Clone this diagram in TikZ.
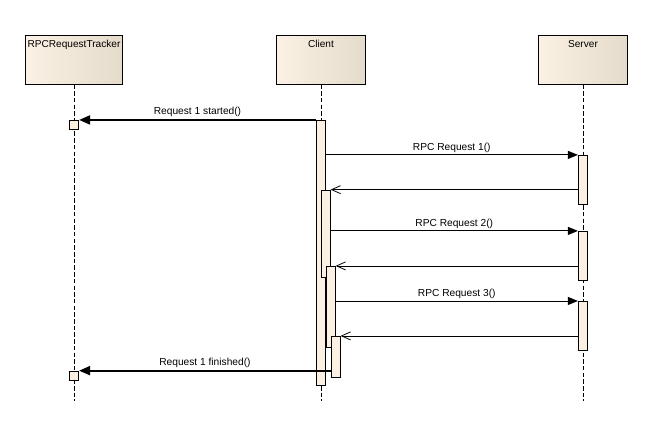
\documentclass[tikz,border=0pt]{standalone}
\usepackage{fontspec}
\setmainfont{Liberation Sans}
\usetikzlibrary{arrows.meta}
\definecolor{boxl}{HTML}{FBF1E4}
\definecolor{boxm}{HTML}{F8EEDF}
\definecolor{boxr}{HTML}{E4DBCB}
\definecolor{actfill}{HTML}{FBF0E2}
\tikzset{
  lifebox/.style={draw=black, line width=0.9pt, left color=boxl, middle color=boxm, right color=boxr,
    minimum width=89.4pt, minimum height=48.7pt, inner sep=0pt},
  boxlabel/.style={anchor=north, inner sep=0pt, yshift=-5.5pt, font=\fontsize{10.1}{12}\selectfont},
  lifeline/.style={draw=black, line width=0.8pt, dash pattern=on 4.5pt off 2.2pt},
  actbox/.style={draw=black, line width=0.8pt, fill=actfill, minimum width=9pt, inner sep=0pt},
  callmsg/.style={draw=black, line width=0.9pt, -{Triangle[length=10pt,width=8pt]}},
  thickmsg/.style={draw=black, line width=2pt, -{Triangle[length=11pt,width=9pt]}},
  retmsg/.style={draw=black, line width=0.8pt, -{Straight Barb[length=9pt,width=8pt,line width=0.8pt]}},
  msglabel/.style={above, inner sep=0pt, yshift=1.8pt, font=\fontsize{10.2}{12}\selectfont},
}
\begin{document}
\begin{tikzpicture}[x=1pt,y=-1pt]
\useasboundingbox (0,0) rectangle (653,426);
% lifeline heads
\node[lifebox, minimum width=97.4pt, label={[boxlabel]north:RPCRequestTracker}] (trk) at (74,59.7) {};
\node[lifebox, label={[boxlabel]north:Client}] (cli) at (321,59.7) {};
\node[lifebox, label={[boxlabel]north:Server}] (srv) at (583,59.7) {};
% lifelines
\coordinate (trkend) at (74,401);
\coordinate (cliend) at (321,401);
\coordinate (srvend) at (583,401);
\draw[lifeline] (trk.south) -- (trkend);
\draw[lifeline] (cli.south) -- (cliend);
\draw[lifeline] (srv.south) -- (srvend);
% activations
\node[actbox, minimum width=9.4pt, minimum height=9.3pt] (ta1) at (74,124.7) {};
\node[actbox, minimum width=9.4pt, minimum height=9.3pt] (ta2) at (74,375.7) {};
\node[actbox, minimum height=264.7pt] (ca1) at (320.8,252.7) {};
\node[actbox, minimum height=87.3pt] (ca2) at (325.7,233.7) {};
\node[actbox, minimum height=81pt] (ca3) at (330.7,306.8) {};
\node[actbox, minimum height=41pt] (ca4) at (335.7,356.8) {};
\node[actbox, minimum height=49pt] (sa1) at (582.8,179.8) {};
\node[actbox, minimum height=49pt] (sa2) at (582.8,255.8) {};
\node[actbox, minimum height=48.7pt] (sa3) at (582.8,325.7) {};
% messages
\draw[thickmsg] (ca1.north west) -- node[msglabel, yshift=0.6pt]{Request 1 started()} (ta1.east |- ca1.north);
\draw[callmsg] (ca1.east |- sa1.north) -- node[msglabel]{RPC Request 1()} (sa1.north west);
\draw[retmsg] (sa1.west |- ca2.north) -- (ca2.north east);
\draw[callmsg] (ca2.east |- sa2.north) -- node[msglabel]{RPC Request 2()} (sa2.north west);
\draw[retmsg] (sa2.west |- ca3.north) -- (ca3.north east);
\draw[callmsg] (ca3.east |- sa3.north) -- node[msglabel]{RPC Request 3()} (sa3.north west);
\draw[retmsg] (sa3.west |- ca4.north) -- (ca4.north east);
\draw[thickmsg] (ca4.west |- ta2.north) -- node[msglabel, yshift=0.6pt]{Request 1 finished()} (ta2.north east);
\end{tikzpicture}
\end{document}
